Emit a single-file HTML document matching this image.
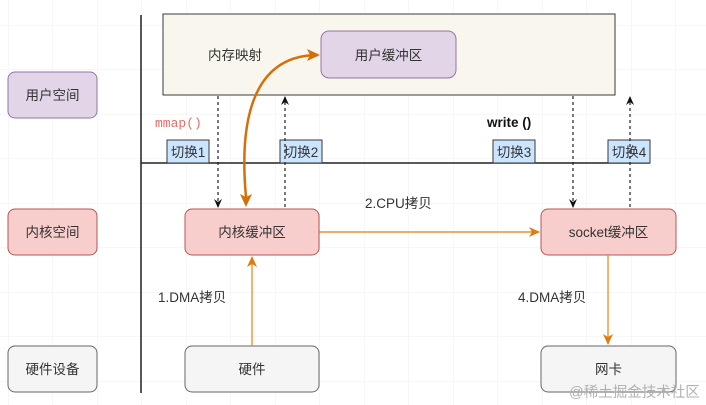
<!DOCTYPE html>
<html><head><meta charset="utf-8"><style>
html,body{margin:0;padding:0;background:#fff;}
svg{display:block;}
text{font-family:"Liberation Sans","Noto Sans CJK SC",sans-serif;font-size:13.5px;fill:#333;}
</style></head><body>
<svg width="706" height="405" viewBox="0 0 706 405" xmlns="http://www.w3.org/2000/svg">
<defs>
<pattern id="g" x="8" y="25" width="44.5" height="44.5" patternUnits="userSpaceOnUse">
<path d="M0 0H44.5M0 0V44.5" stroke="#efefef" stroke-width="1" fill="none"/>
</pattern>
<marker id="ab" markerWidth="10" markerHeight="10" refX="8" refY="5" orient="auto" markerUnits="userSpaceOnUse"><path d="M0 1L9 5L0 9L3 5Z" fill="#111"/></marker>
<marker id="ao" markerWidth="12" markerHeight="12" refX="10" refY="6" orient="auto" markerUnits="userSpaceOnUse"><path d="M0 1L11 6L0 11L3 6Z" fill="#e07b10"/></marker>
<marker id="ao2" markerWidth="14" markerHeight="14" refX="11" refY="7" orient="auto" markerUnits="userSpaceOnUse"><path d="M0 1L13 7L0 13L3 7Z" fill="#d46f0c"/></marker>
</defs>
<rect width="706" height="405" fill="url(#g)"/>
<rect x="8" y="72" width="89" height="46" rx="7" fill="#e1d5e7" stroke="#9673a6"/>
<text x="52.5" y="100" text-anchor="middle">用户空间</text>
<rect x="8" y="209" width="89" height="46" rx="7" fill="#f8cecc" stroke="#b85450"/>
<text x="52.5" y="237" text-anchor="middle">内核空间</text>
<rect x="8" y="346" width="89" height="46" rx="7" fill="#f5f5f5" stroke="#666"/>
<text x="52.5" y="374" text-anchor="middle">硬件设备</text>
<line x1="141" y1="15" x2="141" y2="393" stroke="#222" stroke-width="1.5"/>
<line x1="141" y1="163" x2="650" y2="163" stroke="#222" stroke-width="1.5"/>
<rect x="163" y="14" width="452" height="81" fill="#f9f7ed" stroke="#36393d"/>
<text x="235" y="60" text-anchor="middle">内存映射</text>
<rect x="321" y="31" width="135" height="47" rx="8" fill="#e1d5e7" stroke="#9673a6"/>
<text x="388.5" y="60" text-anchor="middle">用户缓冲区</text>
<g fill="#cce5ff" stroke="#36393d">
<rect x="167" y="140" width="42" height="23"/>
<rect x="280" y="140" width="42" height="23"/>
<rect x="493" y="140" width="42" height="23"/>
<rect x="608" y="140" width="42" height="23"/>
</g>
<text x="188" y="157" text-anchor="middle">切换1</text>
<text x="301" y="157" text-anchor="middle">切换2</text>
<text x="514" y="157" text-anchor="middle">切换3</text>
<text x="629" y="157" text-anchor="middle">切换4</text>
<text x="155" y="127" style="font-family:'Liberation Mono',monospace;fill:#ea6b66;font-size:13px">mmap()</text>
<text x="487" y="127" style="font-weight:bold;fill:#111">write ()</text>
<g stroke="#222" stroke-dasharray="3,3" stroke-width="1.2">
<line x1="218" y1="96" x2="218" y2="207" marker-end="url(#ab)"/>
<line x1="285" y1="207" x2="285" y2="97" marker-end="url(#ab)"/>
<line x1="573" y1="96" x2="573" y2="207" marker-end="url(#ab)"/>
<line x1="630" y1="207" x2="630" y2="97" marker-end="url(#ab)"/>
</g>
<rect x="185" y="209" width="134" height="46" rx="7" fill="#f8cecc" stroke="#b85450"/>
<text x="252" y="237" text-anchor="middle">内核缓冲区</text>
<rect x="541" y="209" width="135" height="46" rx="7" fill="#f8cecc" stroke="#b85450"/>
<text x="608.5" y="237" text-anchor="middle">socket缓冲区</text>
<rect x="185" y="346" width="134" height="46" rx="7" fill="#f5f5f5" stroke="#666"/>
<text x="252" y="374" text-anchor="middle">硬件</text>
<rect x="541" y="346" width="135" height="46" rx="7" fill="#f5f5f5" stroke="#666"/>
<text x="608.5" y="374" text-anchor="middle">网卡</text>
<path d="M246 197 C238 110 258 55 318 55" fill="none" stroke="#d46f0c" stroke-width="2.5" marker-end="url(#ao2)"/>
<path d="M246 207 L240 194 L246 197 L252 194 Z" fill="#d46f0c"/>
<line x1="319" y1="232" x2="539" y2="232" stroke="#e07b10" stroke-width="1.3" marker-end="url(#ao)"/>
<line x1="252" y1="346" x2="252" y2="257" stroke="#f08a1c" stroke-width="1.3" marker-end="url(#ao)"/>
<line x1="608" y1="255" x2="608" y2="344" stroke="#f08a1c" stroke-width="1.3" marker-end="url(#ao)"/>
<text x="365" y="208">2.CPU拷贝</text>
<text x="158" y="302">1.DMA拷贝</text>
<text x="518" y="302">4.DMA拷贝</text>
<text x="569" y="397" style="fill:#b0b0b0;font-size:14.5px">@稀土掘金技术社区</text>
</svg>
</body></html>
